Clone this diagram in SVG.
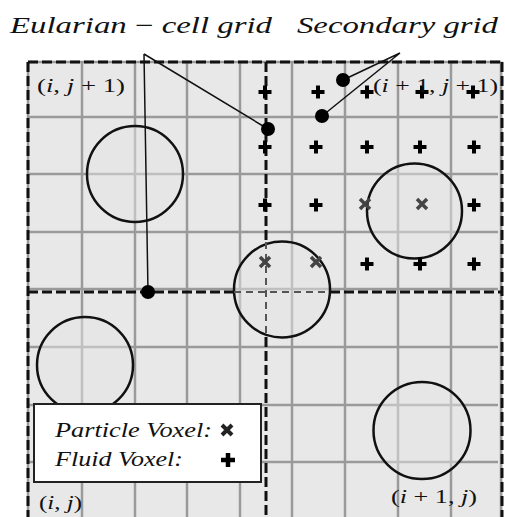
<svg xmlns="http://www.w3.org/2000/svg" width="505" height="517" viewBox="0 0 505 517">
  <defs>
    <style>
      .grid { stroke: #9a9a9a; stroke-width: 2.5; fill: none; }
      .bold { stroke: #111; stroke-width: 3; stroke-dasharray: 10 4; fill: none; }
      .thin { stroke: #555; stroke-width: 2; stroke-dasharray: 7 5; fill: none; }
      .circ { fill: #e4e4e4; fill-opacity: 0.5; stroke: #111; stroke-width: 2.5; }
      .lead { stroke: #111; stroke-width: 1.5; fill: none; }
      .dot { fill: #000; }
      .math { font-family: "Liberation Serif", "DejaVu Serif", serif; fill: #111; }
      .it { font-style: italic; }
    </style>
    <path id="plus" d="M-6.5,0 H6.5 M0,-6.5 V6.5" stroke="#000" stroke-width="4" fill="none"/>
    <path id="cross" d="M-5,-5 L5,5 M5,-5 L-5,5" stroke="#444" stroke-width="3.5" fill="none"/>
  </defs>

  <rect x="0" y="0" width="505" height="517" fill="#fff"/>

  <g id="background">
    <rect x="27" y="61" width="476" height="456" fill="#e8e8e8"/>
  </g>

  <g id="grid">
    <path class="grid" d="M28,62 V517 M82,62 V517 M135,62 V517 M187,62 V517 M240,62 V517 M292,62 V517 M345,62 V517 M398,62 V517 M451,62 V517 M501,62 V517"/>
    <path class="grid" d="M28,62 H501 M28,117 H498 M28,174 H498 M28,232 H498 M28,289 H498 M28,347 H498 M28,405 H498 M28,462 H498"/>
  </g>

  <g id="circles">
    <circle id="particle1" class="circ" cx="135" cy="174" r="48"/>
    <circle id="particle2" class="circ" cx="282" cy="289.5" r="48"/>
    <circle id="particle3" class="circ" cx="414.5" cy="211" r="47.5"/>
    <circle id="particle4" class="circ" cx="85" cy="365" r="48"/>
    <circle id="particle5" class="circ" cx="422" cy="430.5" r="48.5"/>
  </g>

  <g id="cell-boundaries">
    <path class="bold" d="M28,62 H502"/>
    <path class="bold" d="M28,62 V517"/>
    <path class="bold" d="M502,62 V517"/>
    <path class="bold" d="M28,292 H234 M330,292 H502"/>
    <path class="bold" d="M266,62 V242 M266,337 V517"/>
    <path class="thin" d="M234,292 H330 M266,242 V337"/>
  </g>

  <g id="voxels">
    <use href="#plus" x="265" y="92"/>
    <use href="#plus" x="318" y="92"/>
    <use href="#plus" x="367" y="92"/>
    <use href="#plus" x="422" y="92"/>
    <use href="#plus" x="473" y="92"/>
    <use href="#plus" x="265" y="147"/>
    <use href="#plus" x="316" y="147"/>
    <use href="#plus" x="367" y="147"/>
    <use href="#plus" x="420" y="147"/>
    <use href="#plus" x="474" y="147"/>
    <use href="#plus" x="265" y="205"/>
    <use href="#plus" x="316" y="205"/>
    <use href="#cross" x="365" y="204"/>
    <use href="#cross" x="422" y="204"/>
    <use href="#plus" x="474" y="205"/>
    <use href="#cross" x="265" y="262"/>
    <use href="#cross" x="316" y="262"/>
    <use href="#plus" x="367" y="264"/>
    <use href="#plus" x="420" y="264"/>
    <use href="#plus" x="474" y="264"/>
  </g>

  <g id="cell-labels" class="math" font-size="19">
    <text x="37" y="92" textLength="88" lengthAdjust="spacingAndGlyphs">(<tspan class="it">i</tspan>, <tspan class="it">j</tspan> + 1)</text>
    <text x="373" y="92" textLength="125" lengthAdjust="spacingAndGlyphs">(<tspan class="it">i</tspan> + 1, <tspan class="it">j</tspan> + 1)</text>
    <text x="39" y="509" textLength="43" lengthAdjust="spacingAndGlyphs">(<tspan class="it">i</tspan>, <tspan class="it">j</tspan>)</text>
    <text x="391" y="503" textLength="86" lengthAdjust="spacingAndGlyphs">(<tspan class="it">i</tspan> + 1, <tspan class="it">j</tspan>)</text>
  </g>

  <g id="connectors">
    <path class="lead" d="M144,54 L148,292 M144,54 L268,129"/>
    <path class="lead" d="M400,53 L343,80 M400,53 L322,116"/>
    <circle class="dot" cx="148" cy="292" r="7"/>
    <circle class="dot" cx="268" cy="129" r="7"/>
    <circle class="dot" cx="343" cy="80" r="7"/>
    <circle class="dot" cx="322" cy="116" r="7"/>
  </g>

  <g id="title-eularian" class="math" font-size="23">
    <text x="10" y="33" textLength="262" lengthAdjust="spacingAndGlyphs"><tspan class="it">Eularian</tspan> − <tspan class="it">cell grid</tspan></text>
  </g>
  <g id="title-secondary" class="math it" font-size="23">
    <text x="297" y="33" textLength="201" lengthAdjust="spacingAndGlyphs">Secondary grid</text>
  </g>

  <g id="legend">
    <rect x="34" y="404" width="227" height="78" fill="#fff" stroke="#222" stroke-width="2"/>
    <text class="math it" font-size="20" x="55" y="437" textLength="157" lengthAdjust="spacingAndGlyphs">Particle Voxel:</text>
    <text class="math it" font-size="20" x="55" y="466" textLength="128" lengthAdjust="spacingAndGlyphs">Fluid Voxel:</text>
    <path d="M-5,-5 L5,5 M5,-5 L-5,5" transform="translate(227,430)" stroke="#222" stroke-width="4" fill="none"/>
    <path d="M-7,0 H7 M0,-7 V7" transform="translate(228,460)" stroke="#000" stroke-width="4.5" fill="none"/>
  </g>
</svg>
